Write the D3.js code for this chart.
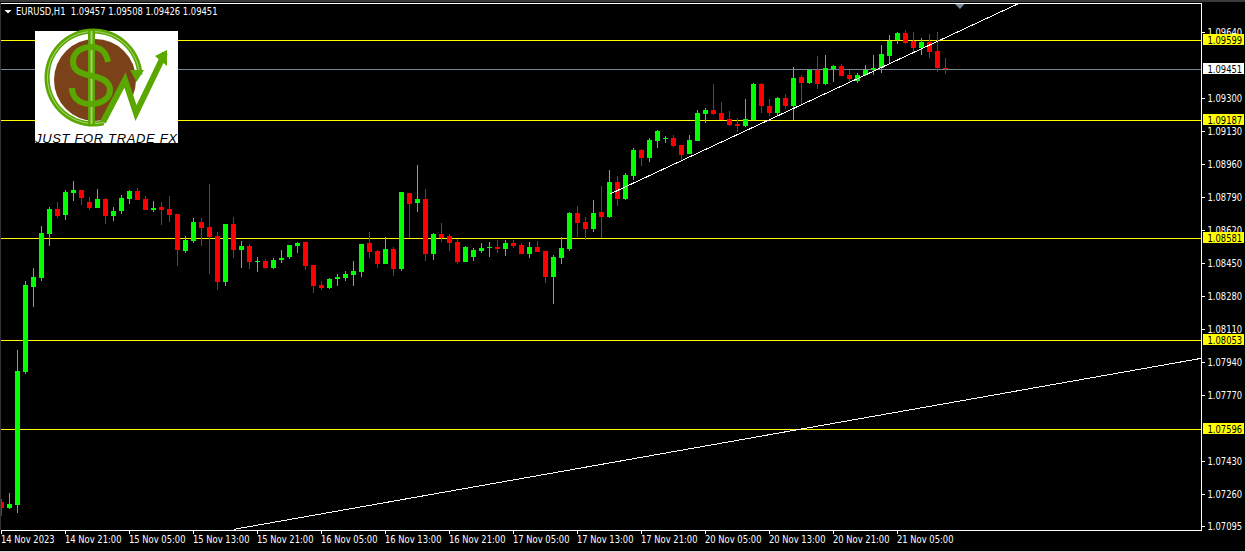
<!DOCTYPE html>
<html><head><meta charset="utf-8">
<style>html,body{margin:0;padding:0;background:#000;overflow:hidden}svg{display:block}</style>
<script src="https://cdnjs.cloudflare.com/ajax/libs/d3/7.8.5/d3.min.js"></script>
</head><body>
<svg id="c" width="1245" height="552"></svg>
<script>
const symbol = "EURUSD,H1";
const lastQuote = [1.09457, 1.09508, 1.09426, 1.09451];
const opens = [1.07218,1.07187,1.07207,1.07892,1.08329,1.08375,1.08601,1.08730,1.08699,1.08813,1.08828,1.08766,1.08735,1.08782,1.08694,1.08720,1.08782,1.08823,1.08782,1.08725,
1.08740,1.08730,1.08704,1.08514,1.08565,1.08663,1.08637,1.08591,1.08355,1.08652,1.08519,1.08539,1.08457,1.08462,1.08427,1.08468,1.08483,1.08539,1.08560,1.08442,
1.08339,1.08324,1.08370,1.08375,1.08390,1.08406,1.08555,1.08514,1.08447,1.08524,1.08421,1.08813,1.08761,1.08782,1.08499,1.08601,1.08591,1.08560,1.08457,1.08483,
1.08514,1.08529,1.08534,1.08524,1.08555,1.08544,1.08499,1.08534,1.08514,1.08380,1.08478,1.08524,1.08710,1.08663,1.08627,1.08715,1.08689,1.08869,1.08782,1.08899,
1.09033,1.08992,1.09080,1.09090,1.09095,1.09059,1.09013,1.09080,1.09218,1.09239,1.09224,1.09193,1.09167,1.09157,1.09188,1.09373,1.09260,1.09224,1.09301,1.09260,
1.09409,1.09378,1.09445,1.09373,1.09450,1.09465,1.09419,1.09388,1.09419,1.09445,1.09455,1.09517,1.09599,1.09635,1.09594,1.09558,1.09589,1.09542,1.09457];
const highs = [1.07238,1.07269,1.08005,1.08360,1.08427,1.08642,1.08740,1.08766,1.08828,1.08874,1.08828,1.08792,1.08833,1.08787,1.08740,1.08802,1.08828,1.08838,1.08797,1.08771,
1.08766,1.08797,1.08704,1.08591,1.08684,1.08684,1.08858,1.08612,1.08652,1.08689,1.08565,1.08550,1.08483,1.08473,1.08478,1.08519,1.08544,1.08560,1.08560,1.08442,
1.08360,1.08375,1.08395,1.08411,1.08462,1.08550,1.08612,1.08519,1.08586,1.08534,1.08818,1.08813,1.08956,1.08833,1.08607,1.08658,1.08601,1.08576,1.08539,1.08529,
1.08555,1.08560,1.08570,1.08570,1.08570,1.08555,1.08560,1.08565,1.08514,1.08493,1.08586,1.08715,1.08745,1.08689,1.08776,1.08848,1.08930,1.08899,1.08915,1.09044,
1.09038,1.09095,1.09136,1.09105,1.09110,1.09059,1.09110,1.09239,1.09249,1.09373,1.09280,1.09234,1.09198,1.09296,1.09378,1.09378,1.09296,1.09306,1.09321,1.09460,
1.09419,1.09450,1.09517,1.09522,1.09470,1.09476,1.09445,1.09429,1.09470,1.09522,1.09573,1.09625,1.09640,1.09650,1.09640,1.09609,1.09630,1.09640,1.09508];
const lows = [1.07146,1.07182,1.07161,1.07881,1.08226,1.08360,1.08539,1.08684,1.08673,1.08771,1.08750,1.08725,1.08735,1.08652,1.08668,1.08704,1.08755,1.08776,1.08725,1.08715,
1.08647,1.08663,1.08437,1.08504,1.08555,1.08539,1.08395,1.08313,1.08334,1.08478,1.08427,1.08421,1.08406,1.08421,1.08421,1.08452,1.08473,1.08504,1.08416,1.08298,
1.08313,1.08319,1.08334,1.08360,1.08334,1.08380,1.08478,1.08427,1.08447,1.08385,1.08411,1.08581,1.08715,1.08462,1.08468,1.08560,1.08514,1.08447,1.08457,1.08462,
1.08504,1.08483,1.08504,1.08488,1.08529,1.08499,1.08478,1.08509,1.08350,1.08241,1.08447,1.08514,1.08586,1.08570,1.08612,1.08581,1.08684,1.08745,1.08776,1.08879,
1.08951,1.08972,1.09044,1.09069,1.09049,1.08977,1.09013,1.09080,1.09172,1.09213,1.09188,1.09157,1.09126,1.09152,1.09188,1.09224,1.09208,1.09208,1.09244,1.09188,
1.09265,1.09373,1.09347,1.09368,1.09383,1.09414,1.09378,1.09378,1.09414,1.09419,1.09429,1.09481,1.09578,1.09578,1.09537,1.09522,1.09506,1.09434,1.09426];
const closes = [1.07187,1.07212,1.07897,1.08339,1.08380,1.08607,1.08730,1.08694,1.08818,1.08828,1.08787,1.08735,1.08782,1.08694,1.08720,1.08787,1.08823,1.08776,1.08725,1.08735,
1.08725,1.08699,1.08519,1.08570,1.08663,1.08632,1.08586,1.08355,1.08652,1.08519,1.08539,1.08457,1.08462,1.08427,1.08468,1.08478,1.08544,1.08555,1.08437,1.08334,
1.08324,1.08370,1.08380,1.08395,1.08411,1.08550,1.08509,1.08447,1.08524,1.08421,1.08818,1.08755,1.08782,1.08499,1.08601,1.08581,1.08555,1.08457,1.08534,1.08519,
1.08529,1.08534,1.08524,1.08555,1.08539,1.08499,1.08534,1.08509,1.08380,1.08483,1.08529,1.08710,1.08658,1.08627,1.08710,1.08689,1.08869,1.08782,1.08905,1.09033,
1.08992,1.09085,1.09131,1.09095,1.09054,1.09008,1.09085,1.09224,1.09239,1.09218,1.09188,1.09162,1.09157,1.09193,1.09373,1.09260,1.09224,1.09301,1.09260,1.09403,
1.09378,1.09445,1.09373,1.09455,1.09465,1.09414,1.09398,1.09419,1.09445,1.09455,1.09527,1.09594,1.09635,1.09584,1.09558,1.09589,1.09537,1.09455,1.09451];
const timeLabels = ["14 Nov 2023","14 Nov 21:00","15 Nov 05:00","15 Nov 13:00","15 Nov 21:00","16 Nov 05:00","16 Nov 13:00","16 Nov 21:00","17 Nov 05:00","17 Nov 13:00","17 Nov 21:00","20 Nov 05:00","20 Nov 13:00","20 Nov 21:00","21 Nov 05:00"];
const priceTicks = [1.09640,1.09300,1.09130,1.08960,1.08790,1.08620,1.08450,1.08280,1.08110,1.07940,1.07770,1.07430,1.07260,1.07095];
const levelPrices = [1.09599,1.09187,1.08581,1.08053,1.07596];
const bidPrice = 1.09451;
const trendBars1 = [76.06,127.25], trendPrices1 = [1.08806,1.09789];
const trendBars2 = [29,150], trendPrices2 = [1.07079,1.07960];

const FONT = "'DejaVu Sans',sans-serif";
const fmt = d=>d.toFixed(5);
// the reference's UI face is narrower than DejaVu: condense each label horizontally
function condense(sel){
  sel.each(function(){
    const tx=this.getAttribute("x"), ty=this.getAttribute("y");
    this.removeAttribute("x"); this.removeAttribute("y");
    this.setAttribute("transform","translate("+tx+","+ty+") scale(0.84,1)");
  });
  return sel;
}
const svg = d3.select("#c");
svg.append("rect").attr("width",1245).attr("height",552).attr("fill","#000");
svg.append("rect").attr("width",1245).attr("height",2).attr("fill","#3a3a3a");
svg.append("rect").attr("y",551).attr("width",1245).attr("height",1).attr("fill","#d8d8d8");

const pLeft=1, pRight=1201, pTop=3, pBottom=530;
const x = d3.scaleLinear().domain([0,1]).range([1.5,9.5]);
const y = d3.scaleLinear().domain([1.09599,1.07596]).range([40,429]);
const py = p=>Math.round(y(p));

svg.append("defs").append("clipPath").attr("id","plot").append("rect")
  .attr("x",pLeft).attr("y",pTop+1).attr("width",pRight-pLeft).attr("height",pBottom-pTop-1);
const plot = svg.append("g").attr("clip-path","url(#plot)");

// levels
plot.selectAll("line.lv").data(levelPrices).join("line").attr("class","lv")
  .attr("x1",pLeft).attr("x2",pRight).attr("y1",d=>py(d)+.5).attr("y2",d=>py(d)+.5)
  .attr("stroke","#ffff00").attr("stroke-width",1);
plot.append("line").attr("x1",pLeft).attr("x2",pRight).attr("y1",py(bidPrice)+.5).attr("y2",py(bidPrice)+.5)
  .attr("stroke","#778899").attr("stroke-width",1);

// candles
const idx = d3.range(opens.length);
const colour = i=>closes[i]>=opens[i]?"#00ff00":"#ff0000";
plot.selectAll("rect.w").data(idx).join("rect").attr("class","w")
  .attr("x",i=>x(i)-.5).attr("width",1)
  .attr("y",i=>py(highs[i])).attr("height",i=>Math.max(1,py(lows[i])-py(highs[i])))
  .attr("fill",colour);
plot.selectAll("rect.b").data(idx).join("rect").attr("class","b")
  .attr("x",i=>x(i)-2.5).attr("width",5)
  .attr("y",i=>py(Math.max(opens[i],closes[i])))
  .attr("height",i=>Math.max(1,py(Math.min(opens[i],closes[i]))-py(Math.max(opens[i],closes[i]))))
  .attr("fill",colour);

// trendlines
[[trendBars1,trendPrices1],[trendBars2,trendPrices2]].forEach(([b,p])=>{
  plot.append("line").attr("x1",x(b[0])).attr("y1",y(p[0])).attr("x2",x(b[1])).attr("y2",y(p[1]))
    .attr("stroke","#fff").attr("stroke-width",1).attr("shape-rendering","crispEdges");
});

// frame
const W="#fff";
svg.append("rect").attr("x",pLeft).attr("y",pTop).attr("width",pRight-pLeft).attr("height",1).attr("fill",W);
svg.append("rect").attr("x",pLeft).attr("y",pBottom).attr("width",pRight-pLeft+1).attr("height",1).attr("fill",W);
svg.append("rect").attr("x",pRight).attr("y",pTop).attr("width",1).attr("height",pBottom-pTop).attr("fill",W);
svg.append("rect").attr("x",pLeft-1).attr("y",pTop).attr("width",1).attr("height",pBottom-pTop).attr("fill","#333");

// shift marker
svg.append("path").attr("d","M955,4L964.5,4L960,9Z").attr("fill","#778899");

// time axis
const tickBars = timeLabels.map((_,k)=>k*8);
const ta = svg.append("g");
ta.selectAll("rect").data(tickBars).join("rect").attr("x",d=>Math.floor(x(d))).attr("y",pBottom).attr("width",1).attr("height",4).attr("fill",W);
condense(ta.selectAll("text").data(timeLabels).join("text")
  .attr("x",(d,k)=>Math.floor(x(tickBars[k]))).attr("y",543)
  .attr("font-family",FONT).attr("font-size",10).attr("fill","#fff").text(d=>d));

// price axis
const pa = svg.append("g");
pa.selectAll("rect").data(priceTicks).join("rect").attr("x",pRight+1).attr("y",d=>py(d)).attr("width",3).attr("height",1).attr("fill",W);
condense(pa.selectAll("text").data(priceTicks).join("text").attr("x",1207.5).attr("y",d=>py(d)+4)
  .attr("font-family",FONT).attr("font-size",10).attr("fill","#fff").text(fmt));

// price tags
const tags = [...levelPrices.map(v=>({v,c:"#ffff00"})),{v:bidPrice,c:"#ffffff"}];
const tg = svg.append("g").selectAll("g").data(tags).join("g");
tg.append("rect").attr("x",1203).attr("y",d=>py(d.v)-6).attr("width",41).attr("height",11).attr("fill",d=>d.c);
condense(tg.append("text").attr("x",1207.5).attr("y",d=>py(d.v)+4)
  .attr("font-family",FONT).attr("font-size",10).attr("fill","#000").text(d=>fmt(d.v)));

// header
svg.append("path").attr("d","M4.5,10L11.5,10L8,13.5Z").attr("fill","#fff");
condense(svg.append("text").attr("x",16).attr("y",15).attr("font-family",FONT).attr("font-size",10).attr("fill","#fff")
  .attr("xml:space","preserve").text(symbol+"  "+lastQuote.map(fmt).join(" ")));

// logo
const logo = svg.append("g");
logo.append("rect").attr("x",35).attr("y",31).attr("width",143).attr("height",112).attr("fill","#fff");
const G="#5aa700", LG="#a8d070", BR="#7b421a";
logo.append("circle").attr("cx",95).attr("cy",80).attr("r",41).attr("fill",BR);
logo.append("path").attr("d","M103,122 L125,80 L136,113 L128,128 L100,128 Z").attr("fill","#fff");
const ringArc = d3.arc();
const ringSpan = {startAngle:-Math.PI*1.07,endAngle:Math.PI*0.48};
logo.append("path").attr("transform","translate(93.5,77.5)")
  .attr("d",ringArc({innerRadius:44,outerRadius:49,...ringSpan})).attr("fill",G);
logo.append("path").attr("transform","translate(93.5,77.5)")
  .attr("d",ringArc({innerRadius:45.5,outerRadius:46.5,...ringSpan})).attr("fill",LG);
logo.append("path").attr("d","M130,70 L144,70 L136.5,82 Z").attr("fill",G);
logo.append("rect").attr("x",88).attr("y",31).attr("width",7).attr("height",93).attr("fill",G);
logo.append("rect").attr("x",90.5).attr("y",31).attr("width",2).attr("height",93).attr("fill",LG);
logo.append("path").attr("d","M108,62 C106,50 98,47 92,47 C80,47 73,53 73,62 C73,71 82,74 92,76 C103,78 110,82 110,90 C110,98 102,104 90,104 C79,104 72,97 72,88")
  .attr("fill","none").attr("stroke",G).attr("stroke-width",6);
logo.append("path").attr("d","M103,122 L125,80 L136,113 L165,53")
  .attr("fill","none").attr("stroke",G).attr("stroke-width",6).attr("stroke-linejoin","miter");
logo.append("path").attr("d","M155,56 L167,50 L167,66 Z").attr("fill",G);
logo.append("text").attr("x",35).attr("y",142.5).attr("font-family","'Liberation Sans',sans-serif").attr("font-style","italic")
  .attr("font-size",13).attr("textLength",142).attr("lengthAdjust","spacing").attr("fill","#000").text("JUST FOR TRADE FX");
</script>
</body></html>
